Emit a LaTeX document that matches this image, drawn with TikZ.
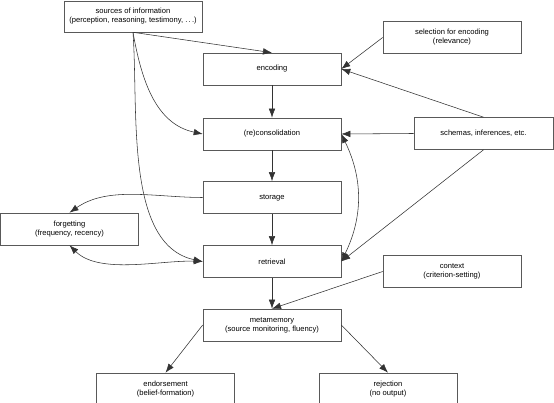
\documentclass[tikz,border=0pt]{standalone}
\usepackage{fontspec}
\setmainfont{Liberation Sans}
\usetikzlibrary{arrows.meta}
\tikzset{
  box/.style={draw=black!65, line width=0.6pt, minimum width=138pt, minimum height=32pt,
    inner sep=1pt, align=center, font=\fontsize{7.6}{9}\selectfont},
  tip/.style={Latex[length=9pt,width=6.5pt]},
  conn/.style={draw=black!80, line width=0.55pt, -{Latex[length=9pt,width=6.5pt]}},
  biconn/.style={draw=black!80, line width=0.55pt, {Latex[length=9pt,width=6.5pt]}-{Latex[length=9pt,width=6.5pt]}}
}
\begin{document}
\begin{tikzpicture}[x=1pt,y=1pt]
\clip (0,0) rectangle (554,403);
\fill[white] (0,0) rectangle (554,403);
\node[box, minimum height=31pt] (sources) at (133,386.5) {sources of information\\(perception, reasoning, testimony, .\,.\,.)};
\node[box] (encoding) at (272,334) {encoding};
\node[box] (recon) at (272,269) {(re)consolidation};
\node[box] (storage) at (272,205.5) {storage};
\node[box] (retrieval) at (272,141.5) {retrieval};
\node[box] (meta) at (272,78) {metamemory\\(source monitoring, fluency)};
\node[box] (endorse) at (165.5,14) {endorsement\\(belief-formation)};
\node[box] (reject) at (388,14) {rejection\\(no output)};
\node[box] (select) at (452,365.5) {selection for encoding\\(relevance)};
\node[box, minimum width=139pt] (schemas) at (483.5,269.5) {schemas, inferences, etc.};
\node[box] (context) at (452,131.5) {context\\(criterion-setting)};
\node[box] (forget) at (69.5,174) {forgetting\\(frequency, recency)};

\draw[conn] (sources.south) -- (encoding.north);
\draw[conn] (sources.south) to[out=-80,in=168] (recon.west);
\draw[conn] (sources.south) to[out=-86,in=168,looseness=0.85] (retrieval.west);
\draw[conn] (encoding) -- (recon);
\draw[conn] (recon) -- (storage);
\draw[conn] (storage) -- (retrieval);
\draw[conn] (retrieval) -- (meta);
\draw[conn] (select.west) -- (encoding.east);
\draw[conn] (schemas.north) -- (encoding.east);
\draw[conn] (schemas.west) -- (recon.east);
\draw[conn] (schemas.south) -- (retrieval.east);
\draw[biconn] (recon.east) to[bend left=26] (retrieval.east);
\draw[conn] (storage.west) to[out=180,in=35,looseness=0.9] (forget.north);
\draw[biconn] (forget.south) to[out=-45,in=178,looseness=0.8] (retrieval.west);
\draw[conn] (context.west) -- (meta.north);
\draw[conn] (meta.west) -- (endorse.north);
\draw[conn] (meta.east) -- (reject.north);
\end{tikzpicture}
\end{document}
